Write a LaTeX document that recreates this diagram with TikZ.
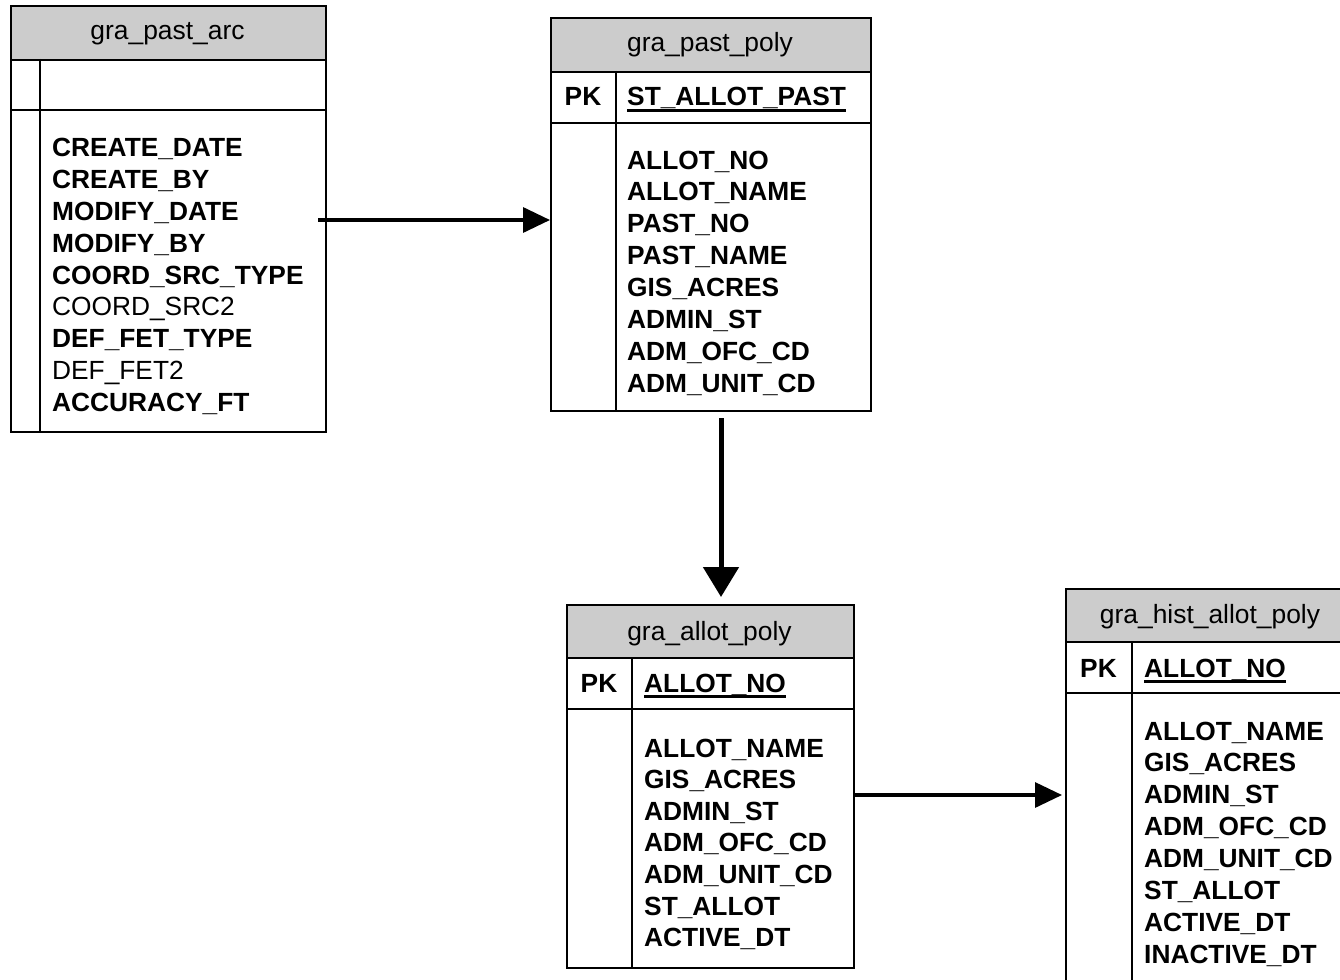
\documentclass[tikz,border=0pt]{standalone}
\usepackage{fontspec}
\setmainfont{Liberation Sans}
\usetikzlibrary{arrows.meta}
\definecolor{hgray}{HTML}{CCCCCC}
\begin{document}
\begin{tikzpicture}[x=1pt,y=-1pt,
 box/.style={draw=black, line width=2pt, inner sep=0pt, anchor=north west},
 hdr/.style={box, fill=hgray},
 ttl/.style={anchor=base, inner sep=0pt, font=\fontsize{26.4pt}{32pt}\selectfont},
 fld/.style={anchor=base west, inner sep=0pt, font=\fontsize{26.3pt}{32pt}\selectfont},
 pk/.style={anchor=base, inner sep=0pt, font=\fontsize{26.3pt}{32pt}\selectfont\bfseries},
 key/.style={anchor=base west, inner sep=0pt, font=\fontsize{26.3pt}{32pt}\selectfont\bfseries},
 uline/.style={line width=2.4pt},
 divider/.style={line width=2pt},
 conn/.style={-{Triangle[length=27pt,width=25pt]}},
]
\useasboundingbox (0,0) rectangle (1340,979);
\fill[white] (0,0) rectangle (1340,979);
\clip (0,0) rectangle (1340,979);

% ---------- gra_past_arc ----------
\node[hdr, minimum width=315pt, minimum height=54pt] (t1h) at (10,5) {};
\node[box, minimum width=315pt, minimum height=50pt] (t1k) at (10,59) {};
\node[box, minimum width=315pt, minimum height=322pt] (t1b) at (10,109) {};
\draw[divider] (40,59) -- (40,431);
\node[ttl] (t1t) at (167.5,40) {gra\_past\_arc};
\foreach \t/\f [count=\i from 0] in {CREATE\_DATE/\bfseries, CREATE\_BY/\bfseries, MODIFY\_DATE/\bfseries, MODIFY\_BY/\bfseries, COORD\_SRC\_TYPE/\bfseries, COORD\_SRC2/\mdseries, DEF\_FET\_TYPE/\bfseries, DEF\_FET2/\mdseries, ACCURACY\_FT/\bfseries}
  \node[fld] (t1f\i) at (52,{157+\i*31.75}) {\f\t};

% ---------- gra_past_poly ----------
\node[hdr, minimum width=320pt, minimum height=54pt] (t2h) at (550,17) {};
\node[box, minimum width=320pt, minimum height=51pt] (t2k) at (550,71) {};
\node[box, minimum width=320pt, minimum height=288pt] (t2b) at (550,122) {};
\draw[divider] (616,71) -- (616,410);
\node[ttl] (t2t) at (710,52) {gra\_past\_poly};
\node[pk] (t2pk) at (583,106) {PK};
\node[key] (t2p) at (627,106) {ST\_ALLOT\_PAST};
\draw[uline] ([yshift=-4.6pt]t2p.base west) -- ([yshift=-4.6pt]t2p.base east);
\foreach \t [count=\i from 0] in {ALLOT\_NO, ALLOT\_NAME, PAST\_NO, PAST\_NAME, GIS\_ACRES, ADMIN\_ST, ADM\_OFC\_CD, ADM\_UNIT\_CD}
  \node[key] (t2f\i) at (627,{169+\i*31.86}) {\t};

% ---------- gra_allot_poly ----------
\node[hdr, minimum width=287pt, minimum height=53pt] (t3h) at (566,604) {};
\node[box, minimum width=287pt, minimum height=51pt] (t3k) at (566,657) {};
\node[box, minimum width=287pt, minimum height=259pt] (t3b) at (566,708) {};
\draw[divider] (632,657) -- (632,967);
\node[ttl] (t3t) at (709.5,640) {gra\_allot\_poly};
\node[pk] (t3pk) at (599,692) {PK};
\node[key] (t3p) at (644,692) {ALLOT\_NO};
\draw[uline] ([yshift=-4.6pt]t3p.base west) -- ([yshift=-4.6pt]t3p.base east);
\foreach \t [count=\i from 0] in {ALLOT\_NAME, GIS\_ACRES, ADMIN\_ST, ADM\_OFC\_CD, ADM\_UNIT\_CD, ST\_ALLOT, ACTIVE\_DT}
  \node[key] (t3f\i) at (644,{757+\i*31.6}) {\t};

% ---------- gra_hist_allot_poly ----------
\node[hdr, minimum width=290pt, minimum height=53pt] (t4h) at (1065,588) {};
\node[box, minimum width=290pt, minimum height=51pt] (t4k) at (1065,641) {};
\node[box, minimum width=290pt, minimum height=320pt] (t4b) at (1065,692) {};
\draw[divider] (1132,641) -- (1132,1012);
\node[ttl] (t4t) at (1210,623) {gra\_hist\_allot\_poly};
\node[pk] (t4pk) at (1098.5,677) {PK};
\node[key] (t4p) at (1144,677) {ALLOT\_NO};
\draw[uline] ([yshift=-4.6pt]t4p.base west) -- ([yshift=-4.6pt]t4p.base east);
\foreach \t [count=\i from 0] in {ALLOT\_NAME, GIS\_ACRES, ADMIN\_ST, ADM\_OFC\_CD, ADM\_UNIT\_CD, ST\_ALLOT, ACTIVE\_DT, INACTIVE\_DT}
  \node[key] (t4f\i) at (1144,{740+\i*31.9}) {\t};

% ---------- connectors ----------
\coordinate (a1s) at (318,220);
\coordinate (a2s) at (721,418);
\coordinate (a2e) at (721,597);
\coordinate (a3s) at (853,795);
\draw[conn, line width=3.4pt] (a1s) -- (t2b.west |- a1s);
\draw[conn, line width=5pt, -{Triangle[length=30pt,width=35pt]}] (a2s) -- (a2e);
\draw[conn, line width=3.2pt] (a3s) -- ([xshift=-3pt]t4b.west |- a3s);
\end{tikzpicture}
\end{document}
